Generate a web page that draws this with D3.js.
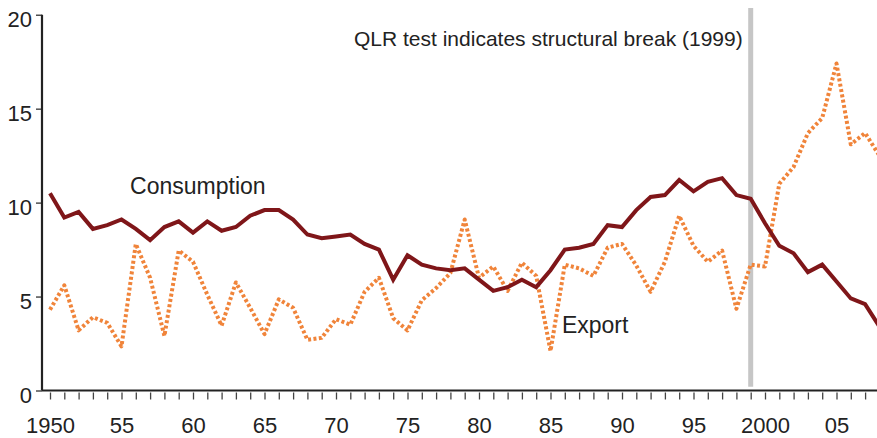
<!DOCTYPE html>
<html>
<head>
<meta charset="utf-8">
<script src="https://cdn.jsdelivr.net/npm/d3@7"></script>
<style>
  html, body { margin: 0; padding: 0; background: #fff; }
  svg { display: block; font-family: "Liberation Sans", Arial, Helvetica, sans-serif; }
  .axis path, .axis line { stroke: #222; }
  .axis text { fill: #222; font-size: 22px; }
</style>
</head>
<body>
<svg id="chart" width="877" height="438"></svg>
<script>
// data
const years = d3.range(1950, 2009)
const consumption = [
  10.5, 9.2, 9.5, 8.6, 8.8, 9.1, 8.6, 8.0, 8.7, 9.0,
  8.4, 9.0, 8.5, 8.7, 9.3, 9.6, 9.6, 9.1, 8.3, 8.1,
  8.2, 8.3, 7.8, 7.5, 5.9, 7.2, 6.7, 6.5, 6.4, 6.5,
  5.9, 5.3, 5.5, 5.9, 5.5, 6.4, 7.5, 7.6, 7.8, 8.8,
  8.7, 9.6, 10.3, 10.4, 11.2, 10.6, 11.1, 11.3, 10.4, 10.2,
  8.9, 7.7, 7.3, 6.3, 6.7, 5.8, 4.9, 4.6, 3.4
]
const exports = [
  4.3, 5.6, 3.2, 3.9, 3.6, 2.35, 7.8, 6.0, 2.9, 7.45,
  6.85, 5.1, 3.45, 5.75, 4.4, 3.0, 4.85, 4.4, 2.7, 2.8,
  3.8, 3.5, 5.25, 6.0, 3.85, 3.2, 4.8, 5.45, 6.25, 9.1,
  6.0, 6.6, 5.3, 6.8, 6.1, 2.1, 6.7, 6.5, 6.1, 7.6,
  7.8, 6.65, 5.25, 6.85, 9.3, 7.7, 6.85, 7.45, 4.35, 6.7,
  6.6, 11.0, 11.9, 13.7, 14.5, 17.4, 13.1, 13.7, 12.5
]
const yTicks = [0, 5, 10, 15, 20]
const breakYear = 1999
const breakLabel = 'QLR test indicates structural break (1999)'

const svg = d3.select('#chart')

const x = d3.scaleLinear()
  .domain([1950, 2000])
  .range([50, 765])

const y = d3.scaleLinear()
  .domain([0, 20])
  .range([390.5, 14.7])

// break marker
svg.append('line')
  .attr('x1', x(breakYear)).attr('x2', x(breakYear))
  .attr('y1', y(20.35)).attr('y2', y(0.2))
  .style('stroke', '#c6c6c6')
  .style('stroke-width', 5)

// axes
const yAxis = d3.axisLeft(y)
  .tickValues(yTicks)
  .tickSize(6)
  .tickPadding(4)

svg.append('g')
  .attr('class', 'axis y-axis')
  .attr('transform', 'translate(42,0)')
  .call(yAxis)
  .call(g => g.select('.domain').attr('d', `M0,${y(20)}V${y(0)}`).style('stroke-width', 2.2))
  .call(g => g.selectAll('.tick line').style('stroke-width', 1.2))
  .call(g => g.selectAll('.tick text').attr('dy', '0.55em'))

const xAxis = d3.axisBottom(x)
  .tickValues(years)
  .tickSize(9)
  .tickPadding(18)
  .tickFormat(d => d % 5 ? '' : (d === 1950 || d === 2000 ? d : String(d % 100).padStart(2, '0')))

svg.append('g')
  .attr('class', 'axis x-axis')
  .attr('transform', `translate(0,${y(0)})`)
  .call(xAxis)
  .call(g => g.select('.domain').attr('d', `M42,0H877`).style('stroke-width', 2.2))
  .call(g => g.selectAll('.tick line').attr('y1', 2).style('stroke', '#444').style('stroke-width', 1.3))

// series
const line = d3.line()
  .x((d, i) => x(years[i]))
  .y(d => y(d))

svg.append('path')
  .datum(exports)
  .attr('d', line)
  .style('fill', 'none')
  .style('stroke', '#f0843a')
  .style('stroke-width', 4)
  .style('stroke-linejoin', 'round')
  .style('stroke-dasharray', '3,2.4')

svg.append('path')
  .datum(consumption)
  .attr('d', line)
  .style('fill', 'none')
  .style('stroke', '#7f1619')
  .style('stroke-width', 4)
  .style('stroke-linejoin', 'miter')

// labels
svg.append('text')
  .text(breakLabel)
  .attr('x', x(breakYear) - 8)
  .attr('y', 46)
  .attr('text-anchor', 'end')
  .style('font-size', '21px')
  .style('fill', '#222')

svg.append('text')
  .text('Consumption')
  .attr('x', x(1955.6))
  .attr('y', y(10.45))
  .style('font-size', '23px')
  .style('fill', '#222')

svg.append('text')
  .text('Export')
  .attr('x', x(1985.8))
  .attr('y', y(3.06))
  .style('font-size', '23px')
  .style('fill', '#222')
</script>
</body>
</html>
